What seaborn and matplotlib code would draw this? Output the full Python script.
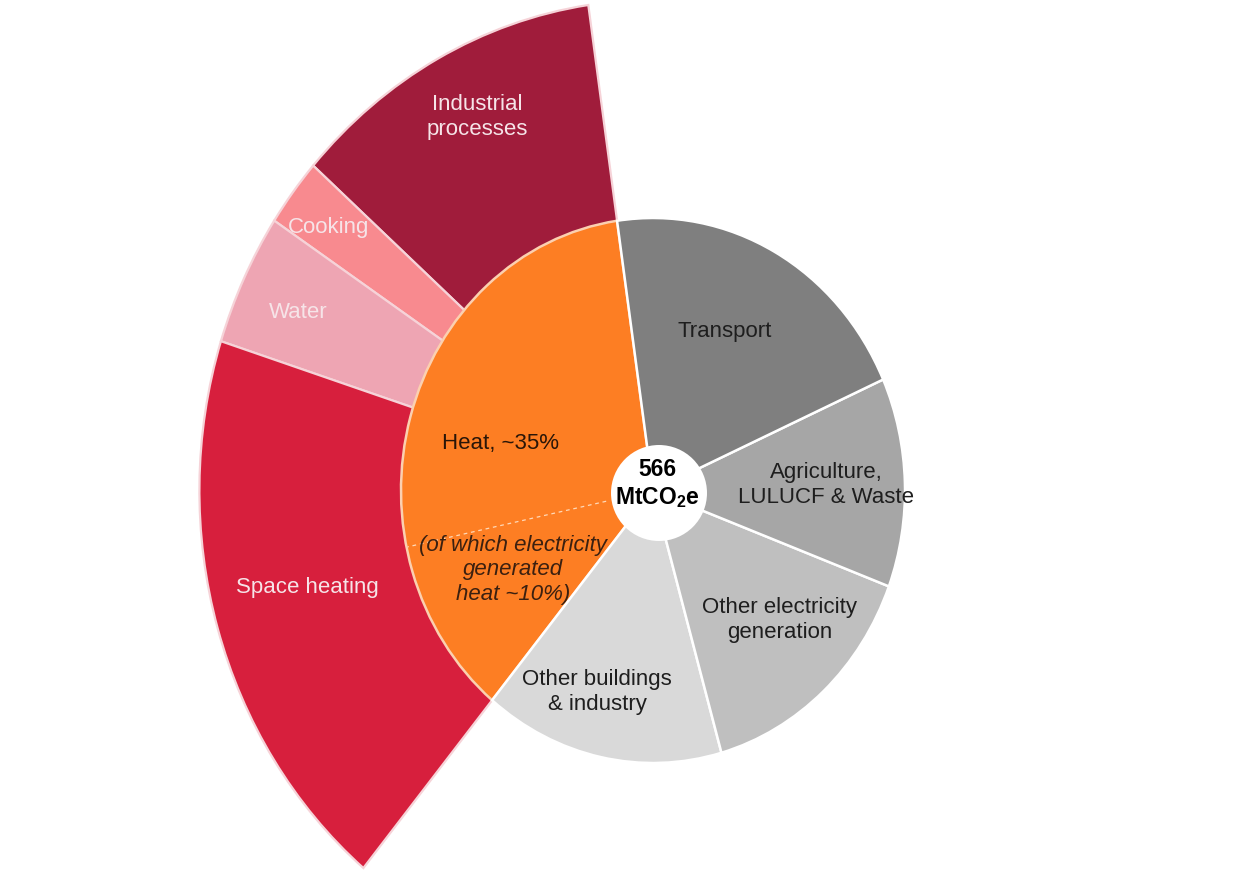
import matplotlib
matplotlib.use("Agg")
import matplotlib.pyplot as plt
import seaborn as sns
from matplotlib.patches import Ellipse
import numpy as np

# ---- data ----
inner_labels = ["Heat", "Other buildings & industry", "Other electricity generation",
                "Agriculture, LULUCF & Waste", "Transport"]
inner_values = [36.7, 15.4, 14.9, 12.4, 20.6]
inner_colors = ["#FD7E23", "#D9D9D9", "#BFBFBF", "#A6A6A6", "#7F7F7F"]

outer_labels = ["Industrial processes", "Cooking", "Water", "Space heating", "rest"]
outer_values = [11.2, 2.25, 4.35, 18.9, 63.3]
outer_colors = ["#A01C3B", "#F88A8F", "#EEA5B3", "#D71F3D", "none"]

total_label = "566\nMtCO$_\\mathregular{2}$e"
start_angle = 98.2

sns.set_theme(style="white")
plt.rcParams["font.family"] = ["Liberation Sans", "DejaVu Sans"]

W, H = 1245, 872
fig = plt.figure(figsize=(W / 100, H / 100), dpi=100)
ax = fig.add_axes([0, 0, 1, 1])

# pixel geometry of the (vertically stretched) original
cx, cy, sx, sy = 653.0, 490.5, 252.0, 272.5

def px(x, y):
    return ((x - cx) / sx, (cy - y) / sy)

# outer ring
ow, _ = ax.pie(outer_values, radius=1.8, startangle=start_angle, counterclock=True,
               colors=[c if c != "none" else "white" for c in outer_colors],
               wedgeprops=dict(edgecolor="#F6D3D8", linewidth=1.6))
ow[-1].set_visible(False)
for w in ow:
    w.set_zorder(1)

# inner pie
iw, _ = ax.pie(inner_values, radius=1.0, startangle=start_angle, counterclock=True,
               colors=inner_colors,
               wedgeprops=dict(edgecolor="white", linewidth=1.8))
iw[0].set_edgecolor("#FBD0B0")
for w in iw:
    w.set_zorder(2)

# dashed divider inside heat slice
ang = np.deg2rad(192)
ax.plot([0.19 * np.cos(ang), 0.995 * np.cos(ang)], [0.19 * np.sin(ang), 0.995 * np.sin(ang)],
        linestyle=(0, (3, 3)), color="#FFD9B8", linewidth=0.9, zorder=3)

# centre hole
ax.add_patch(Ellipse(px(659, 493), 2 * 48 / sx, 2 * 48 / sy, facecolor="white",
                     edgecolor="none", zorder=4))

fs = 16
light = "#F6E4E8"
dark = "#1E1E1E"
texts = [
    ("Industrial\nprocesses", 477, 117, light, "normal", fs),
    ("Cooking", 329, 227, light, "normal", fs),
    ("Water", 298, 312, light, "normal", fs),
    ("Space heating", 307, 587, light, "normal", fs),
    ("Heat, ~35%", 500, 443, "#2A1608", "normal", fs),
    ("(of which electricity\ngenerated\nheat ~10%)", 513, 570, "#3B2010", "italic", fs),
    ("Transport", 725, 332, dark, "normal", fs),
    ("Agriculture,\nLULUCF & Waste", 826, 485, dark, "normal", fs),
    ("Other electricity\ngeneration", 780, 620, dark, "normal", fs),
    ("Other buildings\n& industry", 597, 692, dark, "normal", fs),
]
for t, x, y, c, sty, size in texts:
    ax.text(*px(x, y), t, ha="center", va="center", color=c, fontsize=size,
            fontstyle=sty, linespacing=1.2, zorder=5)

ax.text(*px(657, 484), total_label, ha="center", va="center", color="black",
        fontsize=16.5, fontweight="bold", linespacing=1.2, zorder=5)

ax.set_aspect("auto")
ax.set_xlim(-cx / sx, (W - cx) / sx)
ax.set_ylim((cy - H) / sy, cy / sy)
ax.axis("off")

fig.savefig("out.png", dpi=100, facecolor="white")
